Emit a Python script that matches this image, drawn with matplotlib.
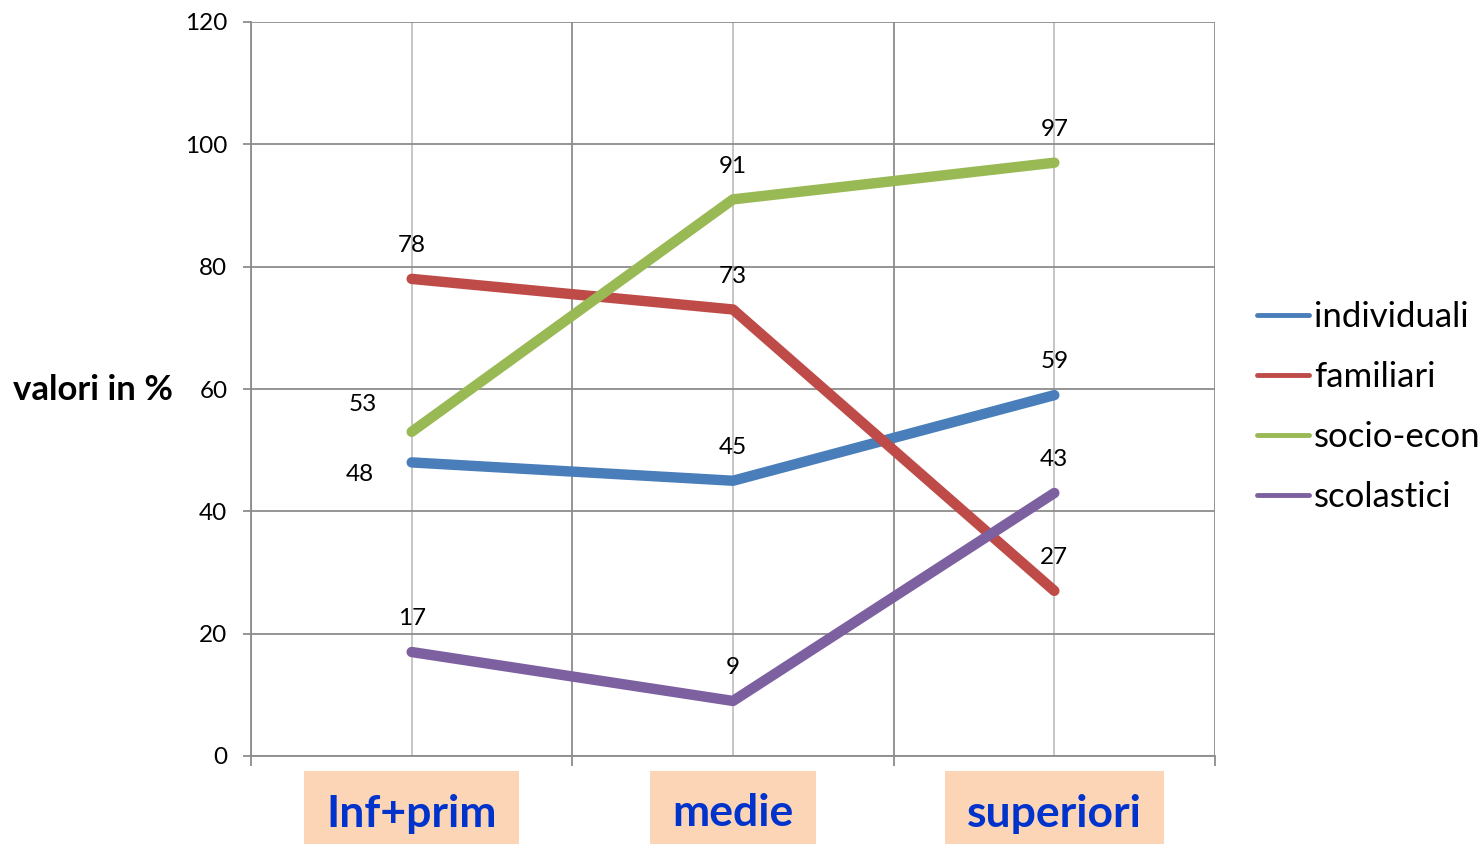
import numpy as np
from matplotlib import pyplot as plt
from matplotlib.lines import Line2D

# Data
categories = ['Inf+prim', 'medie', 'superiori']
series_names = ['individuali', 'familiari', 'socio-econ', 'scolastici']
individuali = [48, 45, 59]
familiari = [78, 73, 27]
socio_econ = [53, 91, 97]
scolastici = [17, 9, 43]
series_values = [individuali, familiari, socio_econ, scolastici]

colors = ['#4A7EBB', '#BE4B48', '#98B954', '#7D60A0']

plt.rcParams['font.family'] = ['Lato', 'DejaVu Sans']

fig = plt.figure(figsize=(14.8, 8.44), dpi=100)
ax = fig.add_axes([251 / 1480, 88 / 844, 964 / 1480, 734 / 844])

x = np.arange(len(categories)) + 0.5

# label offsets (points) - default above, a couple moved by hand in the original
offsets = {(2, 0): (-35, 20), (0, 0): (-37, -9)}

for si, (name, vals, c) in enumerate(zip(series_names, series_values, colors)):
    ax.plot(x, vals, color=c, lw=7.5, solid_capstyle='round', solid_joinstyle='round',
            label=name, zorder=3)
    for ci, v in enumerate(vals):
        dx, dy = offsets.get((si, ci), (0, 24))
        ax.annotate(str(v), (x[ci], v), xytext=(dx, dy), textcoords='offset points',
                    ha='center', va='center', fontsize=17.5, color='black', zorder=4)

ax.set_xlim(0, 3)
ax.set_ylim(0, 120)
ax.set_yticks(np.arange(0, 121, 20))

ax.set_xticks([0, 1, 2, 3])
ax.set_xticklabels([])
ax.set_xticks(x, minor=True)
ax.set_xticklabels(categories, minor=True)

ax.grid(True, which='major', axis='both', color='#8C8C8C', lw=1.3)
ax.grid(True, which='minor', axis='x', color='#C0C0C0', lw=1.3)
ax.set_axisbelow(True)

for side in ['top', 'right']:
    ax.spines[side].set_visible(False)
for side in ['left', 'bottom']:
    ax.spines[side].set_color('#8C8C8C')
    ax.spines[side].set_linewidth(1.3)

ax.tick_params(axis='y', which='major', length=6, width=1.3, color='#8C8C8C',
               labelsize=17.5, pad=11)
ax.tick_params(axis='x', which='major', length=7, width=1.3, color='#8C8C8C')
ax.tick_params(axis='x', which='minor', length=0, pad=27, labelsize=32)

for lbl in ax.get_xticklabels(minor=True):
    lbl.set_fontweight('bold')
    lbl.set_color('#0033CC')
    lbl.set_bbox(dict(facecolor='#FBD5B5', edgecolor='none', boxstyle='square,pad=0.5'))

fig.text(93 / 1480, 1 - 390 / 844, 'valori in %', ha='center', va='center',
         fontsize=25, fontweight='bold')

handles = [Line2D([0], [0], color=c, lw=3.5, solid_capstyle='round') for c in colors]
fig.legend(handles, series_names, loc='center left', bbox_to_anchor=(1257 / 1480, 1 - 407 / 844),
           frameon=False, fontsize=25, handlelength=1.5, handletextpad=0.15,
           labelspacing=0.81, borderpad=0, borderaxespad=0)

fig.savefig('out.png', dpi=100)
